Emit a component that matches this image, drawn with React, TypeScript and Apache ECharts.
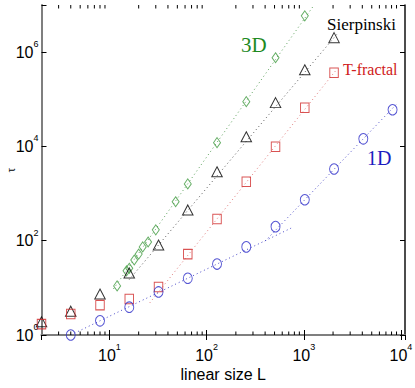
import React, { useEffect, useRef } from 'react';
import * as echarts from 'echarts';

// ---- data ----
const L1D = [4, 8, 16, 32, 64, 128, 256, 512, 1024, 2048, 4096, 8192];
const tau1D = [1, 2, 3.9, 8.2, 16, 32, 74, 199, 740, 3320, 14500, 60000];
const LT = [2, 4, 8, 16, 32, 64, 128, 256, 512, 1024, 2048];
const tauT = [1.7, 2.8, 4.3, 5.8, 10.4, 52, 290, 1780, 9800, 66000, 366000];
const LS = [2, 4, 8, 16, 32, 64, 128, 256, 512, 1024, 2048];
const tauS = [1.9, 3.2, 7.4, 20.7, 81, 450, 2900, 16000, 85000, 423000, 2030000];
const L3D = [12, 15, 16, 18, 20, 22, 25, 30, 48, 64, 128, 256, 512, 1024];
const tau3D = [11, 23, 26, 39, 52, 74, 94, 170, 670, 1600, 12000, 89000, 760000, 5900000];

// power-law guide lines: end points [L, tau]
const fit3D = [[11, 9.5], [1250, 9.4e6]];
const fitS = [[16, 15], [2200, 2.42e6]];
const fitT = [[26, 4.8], [2200, 440000]];
const fit1DSmall = [[4, 1], [740, 185]];
const fit1DLarge = [[400, 98], [9000, 78800]];

const minorXTicks = [
  3, 4, 5, 6, 7, 8, 9,
  20, 30, 40, 50, 60, 70, 80, 90,
  200, 300, 400, 500, 600, 700, 800, 900,
  2000, 3000, 4000, 5000, 6000, 7000, 8000, 9000,
];

const X_MIN = 2;
const X_MAX = 11000;
const Y_MIN_EXP = 0;
const Y_MAX_EXP = 7;
const Y_TICK_STEP = 2;

const sans = "'Liberation Sans Narrow', 'Liberation Sans', Arial, sans-serif";
const serif = "'Liberation Serif', 'Times New Roman', serif";

const pts = (xs: number[], ys: number[]) => xs.map((x, i) => [x, Math.log10(ys[i])]);
const fitPts = (p: number[][]) => p.map(([x, y]) => [x, Math.log10(y)]);

const rich = {
  b: { fontSize: 16, lineHeight: 20, fontFamily: sans, color: '#000' },
  s: { fontSize: 9, lineHeight: 4, padding: [0, 0, 16, 0], fontFamily: sans, color: '#000' },
};

export default function App() {
  const ref = useRef<HTMLDivElement>(null);
  useEffect(() => {
    if (!ref.current) return;
    const chart = echarts.init(ref.current, undefined, { renderer: 'svg' });

    const xFmt = (v: number) => {
      const e = Math.log10(v);
      return Math.abs(e - Math.round(e)) < 1e-6 ? `{b|10}{s|${Math.round(e)}}` : '';
    };
    const yFmt = (v: number) => (Math.round(v) % 2 === 0 && Math.abs(v - Math.round(v)) < 1e-6 ? `{b|10}{s|${Math.round(v)}}` : '');

    const scatter = (name: string, data: number[][], symbol: string, size: number[], color: string) => ({
      type: 'scatter', name, data, symbol, symbolSize: size,
      itemStyle: { color: 'rgba(0,0,0,0)', borderColor: color, borderWidth: 1 },
      clip: false, z: 3,
    });
    const fit = (data: number[][], color: string) => ({
      type: 'line', data, showSymbol: false, symbol: 'none',
      lineStyle: { color, width: 1, type: [1, 3] }, z: 2, silent: true,
    });

    chart.setOption({
      animation: false,
      backgroundColor: '#fff',
      grid: { left: 41.5, top: 5, right: 10, bottom: 53, outerBoundsMode: 'none' },
      xAxis: [
        {
          type: 'log', logBase: 10, min: X_MIN, max: X_MAX, position: 'bottom',
          name: 'linear size L', nameLocation: 'middle', nameGap: 31, nameMoveOverlap: false,
          nameTextStyle: { fontSize: 16, fontFamily: sans, color: '#000' },
          axisLine: { show: true, lineStyle: { color: '#111', width: 1.5 } },
          axisTick: { show: true, inside: true, length: 5, lineStyle: { color: '#000' } },
          axisLabel: { formatter: xFmt, rich, margin: 10, showMinLabel: false, showMaxLabel: false },
          splitLine: { show: false },
        },
        {
          type: 'log', logBase: 10, min: X_MIN, max: X_MAX, position: 'top',
          axisLine: { show: true, lineStyle: { color: '#7f7f7f', width: 2 } },
          axisTick: { show: true, inside: true, length: 5, lineStyle: { color: '#000' } },
          axisLabel: { show: false },
          splitLine: { show: false },
        },
      ],
      yAxis: [
        {
          type: 'value', min: Y_MIN_EXP, max: Y_MAX_EXP, interval: Y_TICK_STEP, position: 'left',
          name: 'τ', nameLocation: 'middle', nameGap: 25, nameRotate: 90, nameMoveOverlap: false,
          nameTextStyle: { fontSize: 12, fontFamily: serif, color: '#000' },
          axisLine: { show: true, lineStyle: { color: '#7f7f7f', width: 2 } },
          axisTick: { show: true, inside: true, length: 5, lineStyle: { color: '#000' } },
          axisLabel: { formatter: yFmt, rich, margin: 3 },
          splitLine: { show: false },
        },
        {
          type: 'value', min: Y_MIN_EXP, max: Y_MAX_EXP, interval: Y_TICK_STEP, position: 'right',
          axisLine: { show: true, lineStyle: { color: '#111', width: 1.5 } },
          axisTick: { show: true, inside: true, length: 5, lineStyle: { color: '#000' } },
          axisLabel: { show: false },
          splitLine: { show: false },
        },
      ],
      series: [
        fit(fitPts(fit3D), '#5aa05a'),
        fit(fitPts(fitS), '#555555'),
        fit(fitPts(fitT), '#e07878'),
        fit(fitPts(fit1DSmall), '#4848c8'),
        fit(fitPts(fit1DLarge), '#4848c8'),
        scatter('3D', pts(L3D, tau3D), 'diamond', [7, 10], '#3f9a3f'),
        scatter('Sierpinski', pts(LS, tauS), 'triangle', [10.5, 10], '#000000'),
        scatter('T-fractal', pts(LT, tauT), 'rect', [8.5, 9.5], '#d02828'),
        scatter('1D', pts(L1D, tau1D), 'circle', [9, 10.5], '#2c2cc8'),
        {
          type: 'custom', silent: true, clip: false, z: 4,
          data: minorXTicks.map((v) => [v, 0]),
          renderItem: (params: any, api: any) => {
            const x = api.coord([api.value(0), 0])[0];
            const cs = params.coordSys;
            const yb = cs.y + cs.height;
            return {
              type: 'group',
              children: [
                { type: 'line', shape: { x1: x, y1: yb, x2: x, y2: yb - 3.5 }, style: { stroke: '#000', lineWidth: 1 } },
                { type: 'line', shape: { x1: x, y1: cs.y, x2: x, y2: cs.y + 3.5 }, style: { stroke: '#000', lineWidth: 1 } },
              ],
            };
          },
        },
      ],
      graphic: [
        { type: 'text', x: 241, y: 45, style: { text: '3D', fill: '#1f8a1f', fontSize: 21, fontFamily: serif, align: 'left', verticalAlign: 'middle' } },
        { type: 'text', x: 327, y: 24, style: { text: 'Sierpinski', fill: '#000', fontSize: 17, fontFamily: serif, align: 'left', verticalAlign: 'middle' } },
        { type: 'text', x: 343, y: 69, style: { text: 'T-fractal', fill: '#d02020', fontSize: 16, fontFamily: serif, align: 'left', verticalAlign: 'middle' } },
        { type: 'text', x: 367, y: 158, style: { text: '1D', fill: '#1c1cc0', fontSize: 20, fontFamily: serif, align: 'left', verticalAlign: 'middle' } },
      ],
    });
    return () => chart.dispose();
  }, []);
  return <div ref={ref} style={{ position: 'absolute', left: 0, top: 0, width: 415, height: 388, background: '#fff' }} />;
}
